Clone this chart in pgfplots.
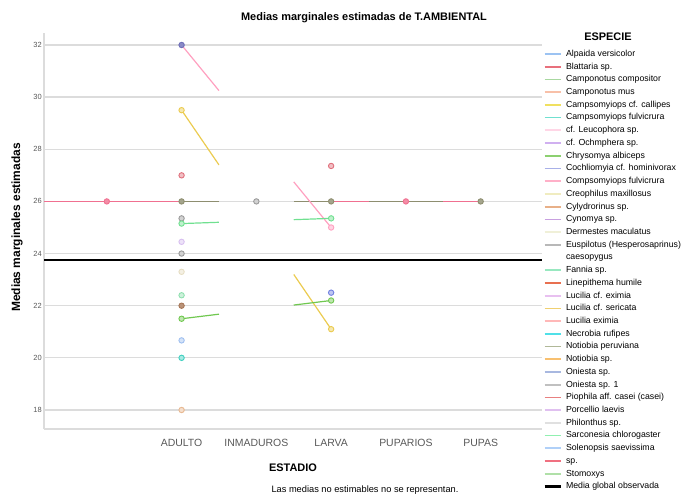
\documentclass[border=0pt]{standalone}
\usepackage{pgfplots}
\pgfplotsset{compat=1.18}
\usepackage{fontspec}
\setmainfont{Liberation Sans}

% legend colours, one per species
\definecolor{c01}{HTML}{9CC3F2}
\definecolor{c02}{HTML}{E8707C}
\definecolor{c03}{HTML}{A8D8A0}
\definecolor{c04}{HTML}{F8C0A8}
\definecolor{c05}{HTML}{F0E060}
\definecolor{c06}{HTML}{70E0D0}
\definecolor{c07}{HTML}{FFD6E6}
\definecolor{c08}{HTML}{D0B0F0}
\definecolor{c09}{HTML}{8CD070}
\definecolor{c10}{HTML}{A8B0E8}
\definecolor{c11}{HTML}{FFB0C8}
\definecolor{c12}{HTML}{F0ECC0}
\definecolor{c13}{HTML}{E8B088}
\definecolor{c14}{HTML}{C8A0E0}
\definecolor{c15}{HTML}{F0F0D8}
\definecolor{c16}{HTML}{B8B8B8}
\definecolor{c17}{HTML}{98E8C0}
\definecolor{c18}{HTML}{E87050}
\definecolor{c19}{HTML}{E8C0F0}
\definecolor{c20}{HTML}{F0D070}
\definecolor{c21}{HTML}{FFB8B8}
\definecolor{c22}{HTML}{50E0E8}
\definecolor{c23}{HTML}{B0B898}
\definecolor{c24}{HTML}{F8C070}
\definecolor{c25}{HTML}{A8B8E0}
\definecolor{c26}{HTML}{C0C0C0}
\definecolor{c27}{HTML}{E88080}
\definecolor{c28}{HTML}{E0C0F0}
\definecolor{c29}{HTML}{E0E0E0}
\definecolor{c30}{HTML}{90F0B0}
\definecolor{c31}{HTML}{B0D0F8}
\definecolor{c32}{HTML}{F07080}
\definecolor{c33}{HTML}{B0E0A8}

% colours of the plotted means
\definecolor{pPink}{HTML}{FFA0C0}
\definecolor{pViolet}{HTML}{6E6EB8}
\definecolor{pYellow}{HTML}{EBCB50}
\definecolor{pRed}{HTML}{E0707C}
\definecolor{pOlive}{HTML}{8E8E70}
\definecolor{pGray}{HTML}{9A9A9A}
\definecolor{pMint}{HTML}{70E090}
\definecolor{pLav}{HTML}{D8C0F0}
\definecolor{pCream}{HTML}{E6DEC4}
\definecolor{pMint2}{HTML}{90E0B0}
\definecolor{pBrown}{HTML}{A87858}
\definecolor{pGreen}{HTML}{70C850}
\definecolor{pLBlue}{HTML}{A0C0F0}
\definecolor{pTeal}{HTML}{40D0C0}
\definecolor{pPeach}{HTML}{E8B890}
\definecolor{pBlue}{HTML}{7080E0}
\definecolor{pSp}{HTML}{F07090}
\definecolor{gridc}{HTML}{DCDCDC}

\pgfplotsset{
  mk/.style={forget plot, only marks, mark=*, mark size=2.7bp,
    mark options={draw=#1, fill=#1!45, line width=0.9bp}},
  mkf/.style={forget plot, only marks, mark=*, mark size=2.7bp,
    mark options={draw=#1, fill=#1!80, line width=0.9bp}},
  ln/.style={forget plot, no marks, color=#1, line width=1.2bp},
  lg/.style={color=#1, line width=1.7bp},
}

\begin{document}
\begin{tikzpicture}
\useasboundingbox (0bp,0bp) rectangle (681bp,500bp);
\begin{axis}[
  at={(44bp,71bp)}, anchor=south west,
  scale only axis, width=498bp, height=396bp,
  xmin=-0.84, xmax=5.82, ymin=17.271, ymax=32.46,
  axis x line*=bottom, axis y line*=left,
  axis line style={draw=gridc, line width=1.6bp},
  xtick={1,2,3,4,5},
  xticklabels={ADULTO,INMADUROS,LARVA,PUPARIOS,PUPAS},
  ytick={18,20,22,24,26,28,30,32},
  ymajorgrids, grid style={draw=gridc, line width=1.3bp},
  major tick length=0pt,
  /pgf/number format/assume math mode=true,
  xticklabel style={font=\fontsize{10.5}{12}\selectfont, text=black!65, inner sep=0pt, yshift=-10bp},
  yticklabel style={font=\fontsize{7.5}{9}\selectfont, text=black!65, inner sep=2bp},
  legend cell align=left,
  legend image code/.code={\draw[#1] (0bp,0bp) -- (16bp,0bp);},
  legend style={at={(1.002,0.963)}, anchor=north west, draw=none, fill=none,
    inner sep=0pt, outer sep=0pt, row sep=0pt, column sep=4bp,
    font=\fontsize{8.8}{10}\selectfont,
    nodes={inner sep=0pt, text height=8.72bp, text depth=4bp}},
]
% overall observed mean
\addplot[forget plot, no marks, black, line width=2.8bp] coordinates {(-0.84,23.75) (5.82,23.75)};

% lines between estimable means (hidden across the non-estimable stage)
\addplot[ln=pSp] coordinates {(-1,26) (0,26) (1,26)};
\addplot[ln=pSp] coordinates {(3,26) (4,26) (5,26)};
\addplot[ln=pOlive, line width=1.6bp, dash pattern=on 37.39bp off 74.78bp on 37.39bp] coordinates {(1,26) (3,26) (5,26)};
\addplot[ln=pPink, dash pattern=on 58.99bp off 117.97bp on 58.99bp] coordinates {(1,32) (3,25)};
\addplot[ln=pYellow, dash pattern=on 66.30bp off 132.60bp on 66.30bp] coordinates {(1,29.5) (3,21.1)};
\addplot[ln=pGreen, dash pattern=on 37.66bp off 75.33bp on 37.66bp] coordinates {(1,21.5) (3,22.2)};
\addplot[ln=pMint, dash pattern=on 37.41bp off 74.82bp on 37.41bp] coordinates {(1,25.15) (3,25.35)};

% estimated means
\addplot[mkf=pSp] coordinates {(0,26) (4,26)};
\addplot[mkf=pOlive] coordinates {(1,26) (3,26) (5,26)};
\addplot[mkf=pViolet] coordinates {(1,32)};
\addplot[mk=pYellow] coordinates {(1,29.5) (3,21.1)};
\addplot[mk=pRed] coordinates {(1,27.0) (3,27.36)};
\addplot[mk=pGray] coordinates {(1,25.35) (2,26)};
\addplot[mk=pMint] coordinates {(1,25.15) (3,25.35)};
\addplot[mk=pLav] coordinates {(1,24.45)};
\addplot[mk=pGray] coordinates {(1,24.0)};
\addplot[mk=pCream] coordinates {(1,23.3)};
\addplot[mk=pMint2] coordinates {(1,22.4)};
\addplot[mkf=pBrown] coordinates {(1,22.0)};
\addplot[mk=pGreen] coordinates {(1,21.5) (3,22.2)};
\addplot[mk=pLBlue] coordinates {(1,20.67)};
\addplot[mk=pTeal] coordinates {(1,20.0)};
\addplot[mk=pPeach] coordinates {(1,18.0)};
\addplot[mk=pPink] coordinates {(3,25.0)};
\addplot[mk=pBlue] coordinates {(3,22.5)};

% legend
\addlegendimage{lg=c01}\addlegendentry{Alpaida versicolor}
\addlegendimage{lg=c02}\addlegendentry{Blattaria sp.}
\addlegendimage{lg=c03}\addlegendentry{Camponotus compositor}
\addlegendimage{lg=c04}\addlegendentry{Camponotus mus}
\addlegendimage{lg=c05}\addlegendentry{Campsomyiops cf. callipes}
\addlegendimage{lg=c06}\addlegendentry{Campsomyiops fulvicrura}
\addlegendimage{lg=c07}\addlegendentry{cf. Leucophora sp.}
\addlegendimage{lg=c08}\addlegendentry{cf. Ochmphera sp.}
\addlegendimage{lg=c09}\addlegendentry{Chrysomya albiceps}
\addlegendimage{lg=c10}\addlegendentry{Cochliomyia cf. hominivorax}
\addlegendimage{lg=c11}\addlegendentry{Compsomyiops fulvicrura}
\addlegendimage{lg=c12}\addlegendentry{Creophilus maxillosus}
\addlegendimage{lg=c13}\addlegendentry{Cylydrorinus sp.}
\addlegendimage{lg=c14}\addlegendentry{Cynomya sp.}
\addlegendimage{lg=c15}\addlegendentry{Dermestes maculatus}
\addlegendimage{lg=c16}\addlegendentry{Euspilotus (Hesperosaprinus)}
\addlegendimage{empty legend}\addlegendentry{caesopygus}
\addlegendimage{lg=c17}\addlegendentry{Fannia sp.}
\addlegendimage{lg=c18}\addlegendentry{Linepithema humile}
\addlegendimage{lg=c19}\addlegendentry{Lucilia cf. eximia}
\addlegendimage{lg=c20}\addlegendentry{Lucilia cf. sericata}
\addlegendimage{lg=c21}\addlegendentry{Lucilia eximia}
\addlegendimage{lg=c22}\addlegendentry{Necrobia rufipes}
\addlegendimage{lg=c23}\addlegendentry{Notiobia peruviana}
\addlegendimage{lg=c24}\addlegendentry{Notiobia sp.}
\addlegendimage{lg=c25}\addlegendentry{Oniesta sp.}
\addlegendimage{lg=c26}\addlegendentry{Oniesta sp. 1}
\addlegendimage{lg=c27}\addlegendentry{Piophila aff. casei (casei)}
\addlegendimage{lg=c28}\addlegendentry{Porcellio laevis}
\addlegendimage{lg=c29}\addlegendentry{Philonthus sp.}
\addlegendimage{lg=c30}\addlegendentry{Sarconesia chlorogaster}
\addlegendimage{lg=c31}\addlegendentry{Solenopsis saevissima}
\addlegendimage{lg=c32}\addlegendentry{sp.}
\addlegendimage{lg=c33}\addlegendentry{Stomoxys}
\addlegendimage{black, line width=3bp}\addlegendentry{Media global observada}
\end{axis}
\node[font=\bfseries\fontsize{11}{13}\selectfont] at (364bp,482bp) {Medias marginales estimadas de T.AMBIENTAL};
\node[font=\bfseries\fontsize{11}{13}\selectfont] at (608bp,463bp) {ESPECIE};
\node[rotate=90, font=\bfseries\fontsize{12}{14}\selectfont] at (17bp,272.5bp) {Medias marginales estimadas};
\node[font=\bfseries\fontsize{11}{13}\selectfont] at (293bp,32bp) {ESTADIO};
\node[anchor=west, font=\fontsize{9.3}{11}\selectfont] at (268bp,10bp) {Las medias no estimables no se representan.};
\end{tikzpicture}
\end{document}
